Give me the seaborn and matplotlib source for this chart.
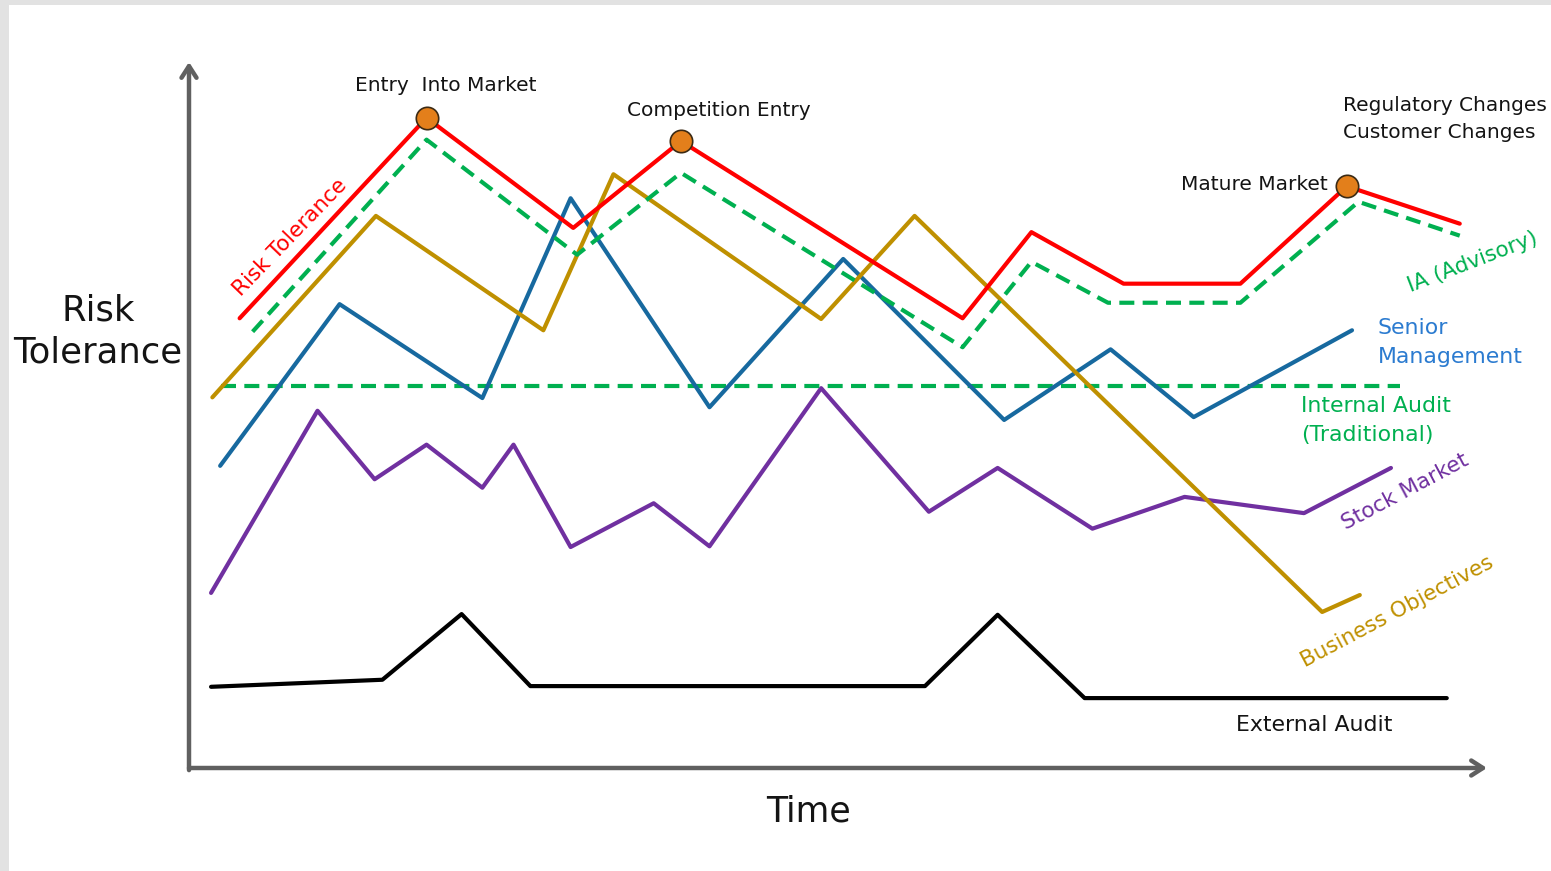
"""Risk tolerance over time sketch"""
import matplotlib.pyplot as plt
import matplotlib.patches as mpatches
import pandas as pd
import seaborn as sns

# time (0-100) and risk tolerance (0-100)
risk_t = [3.9, 18.3, 29.6, 37.9, 59.6, 64.9, 72.0, 81.0, 89.2, 97.9]
risk_r = [63.7, 92.1, 76.5, 88.8, 63.7, 75.9, 68.6, 68.6, 82.4, 77.1]

ia_t = [4.9, 18.3, 29.9, 37.9, 59.6, 64.9, 70.8, 81.0, 90.1, 97.9]
ia_r = [61.8, 89.0, 72.7, 84.3, 59.6, 71.7, 65.9, 65.9, 80.2, 75.4]

internal_t = [2.5, 93.3]
internal_r = [54.1, 54.1]

business_t = [1.8, 14.4, 27.3, 32.7, 48.7, 55.9, 87.3, 90.2]
business_r = [52.5, 78.2, 62.0, 84.1, 63.6, 78.2, 22.1, 24.5]

senior_t = [2.4, 11.6, 22.6, 29.4, 40.1, 50.4, 62.8, 71.0, 77.4, 89.6]
senior_r = [42.8, 65.7, 52.4, 80.7, 51.1, 72.1, 49.3, 59.3, 49.7, 62.0]

stock_t = [1.7, 9.9, 14.3, 18.3, 22.6, 25.0, 29.4, 35.8, 40.1, 48.7,
           57.0, 62.3, 69.6, 76.7, 85.9, 92.6]
stock_r = [24.8, 50.6, 40.9, 45.8, 39.7, 45.8, 31.3, 37.5, 31.4, 53.8,
           36.3, 42.5, 33.9, 38.4, 36.1, 42.5]

external_t = [1.7, 14.9, 21.0, 26.3, 56.7, 62.3, 69.0, 96.9]
external_r = [11.5, 12.5, 21.8, 11.6, 11.6, 21.7, 9.9, 9.9]

event_names = ["Entry  Into Market", "Competition Entry", "Mature Market"]
event_t = [18.3, 37.9, 89.2]
event_r = [92.1, 88.8, 82.4]

RED = "#ff0000"
GREEN = "#00b050"
GOLD = "#bf9000"
BLUE = "#17699f"
BLUE_TEXT = "#2b7bd0"
PURPLE = "#7030a0"
AXIS = "#606060"
INK = "#141414"

sns.set_theme(style="white")
plt.rcParams["font.family"] = ["DejaVu Sans"]

fig = plt.figure(figsize=(15.51, 8.71), dpi=100, facecolor="#e2e2e2")
# white slide area inside the grey frame
bg = fig.add_axes([0, 0, 1, 1], zorder=-1)
bg.set_axis_off()
bg.add_patch(mpatches.Rectangle((9 / 1551, 0), 1, 866 / 871,
                                transform=bg.transAxes,
                                facecolor="white", edgecolor="none"))

ax = fig.add_axes([189 / 1551, 103 / 871, 1298 / 1551, 706 / 871])
ax.set_facecolor("none")

dash = (0, (3.6, 2.0))
series = [
    (external_t, external_r, "black", "-"),
    (stock_t, stock_r, PURPLE, "-"),
    (internal_t, internal_r, GREEN, dash),
    (senior_t, senior_r, BLUE, "-"),
    (business_t, business_r, GOLD, "-"),
    (ia_t, ia_r, GREEN, dash),
    (risk_t, risk_r, RED, "-"),
]
for t, r, color, style in series:
    df = pd.DataFrame({"Time": t, "Risk": r})
    sns.lineplot(data=df, x="Time", y="Risk", sort=False, color=color,
                 linewidth=3, linestyle=style, ax=ax, clip_on=False)

sns.scatterplot(x=event_t, y=event_r, s=260, color="#e37f1b",
                edgecolor="#3b2a14", linewidth=1.2, ax=ax, zorder=5,
                clip_on=False)
ax.set_xlim(0, 100)
ax.set_ylim(0, 100)
ax.set_axis_off()

# axis arrows
arrow = dict(arrowstyle="->,head_length=0.7,head_width=0.45", color=AXIS,
             lw=3.2, shrinkA=0, shrinkB=0)
ax.annotate("", xy=(100, 0), xytext=(0, 0), arrowprops=arrow,
            annotation_clip=False)
ax.annotate("", xy=(0, 100), xytext=(0, -0.3), arrowprops=arrow,
            annotation_clip=False)

ax.text(-7.0, 61.8, "Risk\nTolerance", fontsize=25.5, color=INK,
        ha="center", va="center", linespacing=1.3)
ax.text(47.7, -6.2, "Time", fontsize=25, color=INK, ha="center",
        va="center")

# event labels
ax.text(19.8, 96.7, event_names[0], fontsize=14.5, color=INK,
        ha="center", va="center")
ax.text(40.8, 93.2, event_names[1], fontsize=14.5, color=INK,
        ha="center", va="center")
ax.text(87.75, 82.7, event_names[2], fontsize=14.5, color=INK,
        ha="right", va="center")
ax.text(88.9, 91.9, "Regulatory Changes\nCustomer Changes", fontsize=14.5,
        color=INK, ha="left", va="center", linespacing=1.5)

# series labels
ax.text(7.8, 75.1, "Risk Tolerance", fontsize=15.5, color=RED, rotation=46,
        ha="center", va="center", rotation_mode="anchor")
ax.text(98.9, 71.7, "IA (Advisory)", fontsize=15.5, color=GREEN, rotation=21,
        ha="center", va="center", rotation_mode="anchor")
ax.text(91.6, 60.3, "Senior\nManagement", fontsize=15.8, color=BLUE_TEXT,
        ha="left", va="center", linespacing=1.55)
ax.text(85.7, 49.2, "Internal Audit\n(Traditional)", fontsize=15.8,
        color=GREEN, ha="left", va="center", linespacing=1.55)
ax.text(93.7, 39.1, "Stock Market", fontsize=15.5, color=PURPLE, rotation=28,
        ha="center", va="center", rotation_mode="anchor")
ax.text(93.1, 22.1, "Business Objectives", fontsize=15.5, color=GOLD,
        rotation=28, ha="center", va="center", rotation_mode="anchor")
ax.text(86.7, 6.1, "External Audit", fontsize=15.8, color=INK,
        ha="center", va="center")

fig.savefig("out.png", dpi=100, facecolor=fig.get_facecolor())
